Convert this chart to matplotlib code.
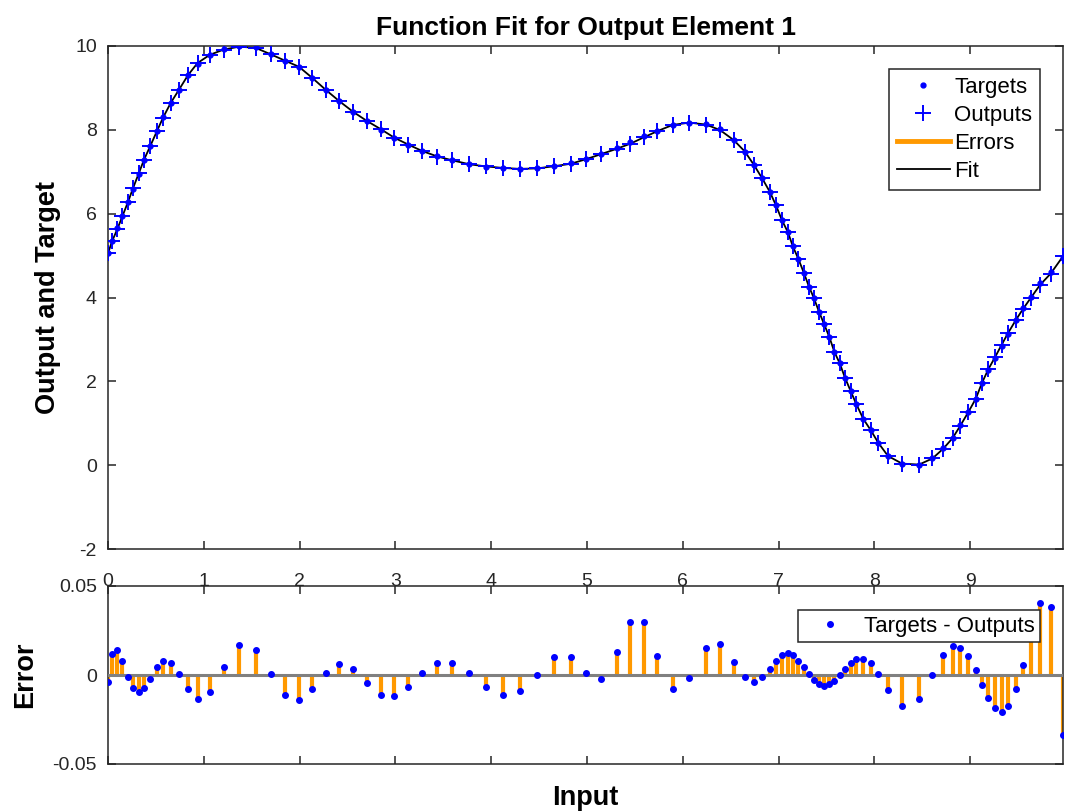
import matplotlib
matplotlib.use("Agg")
import matplotlib.pyplot as plt
import numpy as np
from matplotlib.lines import Line2D

plt.rcParams['font.family'] = ['Liberation Sans', 'DejaVu Sans']
plt.rcParams['axes.unicode_minus'] = False

# ---- data ----
inputs = [0.000, 0.042, 0.098, 0.151, 0.209, 0.261, 0.321, 0.376, 0.443, 0.512,
          0.575, 0.655, 0.739, 0.836, 0.935, 1.063, 1.209, 1.369, 1.541, 1.701,
          1.847, 1.994, 2.133, 2.276, 2.415, 2.561, 2.701, 2.851, 2.990, 3.136,
          3.276, 3.439, 3.593, 3.771, 3.948, 4.123, 4.296, 4.478, 4.652, 4.830,
          4.991, 5.150, 5.310, 5.454, 5.593, 5.736, 5.896, 6.070, 6.245, 6.391,
          6.534, 6.649, 6.743, 6.830, 6.910, 6.973, 7.035, 7.098, 7.150, 7.207,
          7.265, 7.318, 7.370, 7.422, 7.474, 7.531, 7.583, 7.639, 7.694, 7.754,
          7.813, 7.886, 7.963, 8.043, 8.143, 8.290, 8.467, 8.607, 8.718, 8.817,
          8.896, 8.980, 9.060, 9.123, 9.189, 9.259, 9.329, 9.398, 9.479, 9.555,
          9.636, 9.730, 9.842, 9.970]

targets = [5.05, 5.35, 5.65, 5.95, 6.28, 6.60, 6.95, 7.28, 7.62, 7.98,
           8.30, 8.65, 8.95, 9.30, 9.58, 9.78, 9.92, 10.00, 9.97, 9.80,
           9.64, 9.49, 9.23, 8.95, 8.69, 8.43, 8.21, 8.00, 7.80, 7.64,
           7.50, 7.37, 7.28, 7.18, 7.12, 7.08, 7.06, 7.08, 7.14, 7.20,
           7.30, 7.42, 7.56, 7.70, 7.85, 7.98, 8.11, 8.17, 8.14, 8.01,
           7.76, 7.48, 7.16, 6.84, 6.52, 6.21, 5.86, 5.57, 5.23, 4.93,
           4.59, 4.26, 3.98, 3.66, 3.37, 3.05, 2.70, 2.43, 2.09, 1.77,
           1.46, 1.11, 0.84, 0.53, 0.21, 0.02, 0.00, 0.16, 0.40, 0.66,
           0.95, 1.27, 1.59, 1.95, 2.27, 2.55, 2.85, 3.14, 3.46, 3.74,
           4.02, 4.34, 4.61, 4.95]

errors = [-0.0037, 0.0118, 0.0140, 0.0079, -0.0009, -0.0071, -0.0097, -0.0075, -0.0020, 0.0043,
          0.0080, 0.0069, 0.0006, -0.0080, -0.0137, -0.0096, 0.0043, 0.0167, 0.0139, 0.0004,
          -0.0112, -0.0142, -0.0080, 0.0013, 0.0062, 0.0032, -0.0047, -0.0112, -0.0118, -0.0066,
          0.0009, 0.0066, 0.0066, 0.0009, -0.0066, -0.0112, -0.0088, 0.0002, 0.0099, 0.0099,
          0.0009, -0.0022, 0.0131, 0.0300, 0.0300, 0.0105, -0.0077, -0.0015, 0.0150, 0.0172,
          0.0075, -0.0013, -0.0039, -0.0013, 0.0034, 0.0080, 0.0112, 0.0122, 0.0110, 0.0080,
          0.0043, 0.0004, -0.0028, -0.0052, -0.0062, -0.0052, -0.0032, -0.0002, 0.0032, 0.0066,
          0.0090, 0.0090, 0.0066, 0.0006, -0.0084, -0.0174, -0.0137, 0.0000, 0.0112, 0.0165,
          0.0154, 0.0107, 0.0028, -0.0056, -0.0131, -0.0187, -0.0206, -0.0174, -0.0079, 0.0056,
          0.0220, 0.0404, 0.0382, -0.0335]

main_yticks = [-2, 0, 2, 4, 6, 8, 10]
x_ticks = [0, 1, 2, 3, 4, 5, 6, 7, 8, 9]
err_yticks = [-0.05, 0, 0.05]
err_yticklabels = ['-0.05', '0', '0.05']

x = np.array(inputs)
t = np.array(targets)
e = np.array(errors)
outputs = t - e

BLUE = (0, 0, 1)
ORANGE = (1, 0.6, 0)
AX = (0.15, 0.15, 0.15)

fig = plt.figure(figsize=(10.70, 8.11), dpi=100)
W, H = 1070, 811

def rect(l, r, top, bot):
    return [l / W, 1 - bot / H, (r - l) / W, (bot - top) / H]

ax1 = fig.add_axes(rect(108, 1063, 46, 549))
ax2 = fig.add_axes(rect(108, 1063, 586, 764))

for ax in (ax1, ax2):
    for s in ax.spines.values():
        s.set_color(AX)
        s.set_linewidth(1.1)
    ax.tick_params(direction='in', length=6, width=1.1, color=AX, top=True, right=True,
                   labelsize=14, labelcolor=AX, pad=8)
    ax.set_xlim(0, x.max())
    ax.set_xticks(x_ticks)
ax1.tick_params(axis='x', pad=17)

# ---- main plot ----
ax1.plot(x, outputs, '-', color='black', lw=1.3, zorder=2)
ax1.plot(x, t, '.', color=BLUE, ms=7, zorder=3)
ax1.plot(x, outputs, '+', color=BLUE, ms=11, mew=1.4, zorder=4)
ax1.set_ylim(-2, 10)
ax1.set_yticks(main_yticks)
ax1.set_ylabel('Output and Target', fontsize=19.5, fontweight='bold', color='black', labelpad=10)
ax1.set_title('Function Fit for Output Element 1', fontsize=19, fontweight='bold', pad=8)

handles = [Line2D([], [], ls='none', marker='.', color=BLUE, ms=7),
           Line2D([], [], ls='none', marker='+', color=BLUE, ms=11, mew=1.4),
           Line2D([], [], color=ORANGE, lw=3.5),
           Line2D([], [], color='black', lw=1.3)]
leg1 = ax1.legend(handles, ['Targets', 'Outputs', 'Errors', 'Fit'], loc='upper right',
                  bbox_to_anchor=(0.976, 0.954), fontsize=16, frameon=True, fancybox=False,
                  edgecolor=AX, framealpha=1, borderpad=0.35, labelspacing=0.32,
                  handlelength=2.4, handletextpad=0.2, borderaxespad=0)
leg1.get_frame().set_linewidth(1.1)

# ---- error plot ----
ax2.vlines(x, 0, e, color=ORANGE, lw=3, zorder=2)
ax2.axhline(0, color=(0.5, 0.5, 0.5), lw=2.2, zorder=3)
ax2.plot(x, e, '.', color=BLUE, ms=8, zorder=4, label='Targets - Outputs')
ax2.set_ylim(-0.05, 0.05)
ax2.set_yticks(err_yticks)
ax2.set_yticklabels(err_yticklabels)
ax2.tick_params(labelbottom=False)
ax2.set_ylabel('Error', fontsize=19.5, fontweight='bold', color='black', labelpad=10)
ax2.set_xlabel('Input', fontsize=19.5, fontweight='bold', color='black', labelpad=15)
leg2 = ax2.legend(loc='upper right', bbox_to_anchor=(0.976, 0.865), fontsize=16,
                  frameon=True, fancybox=False, edgecolor=AX, framealpha=1,
                  borderpad=0.25, handlelength=2.4, handletextpad=0.3, borderaxespad=0)
leg2.get_frame().set_linewidth(1.1)

fig.savefig('out.png', dpi=100)
